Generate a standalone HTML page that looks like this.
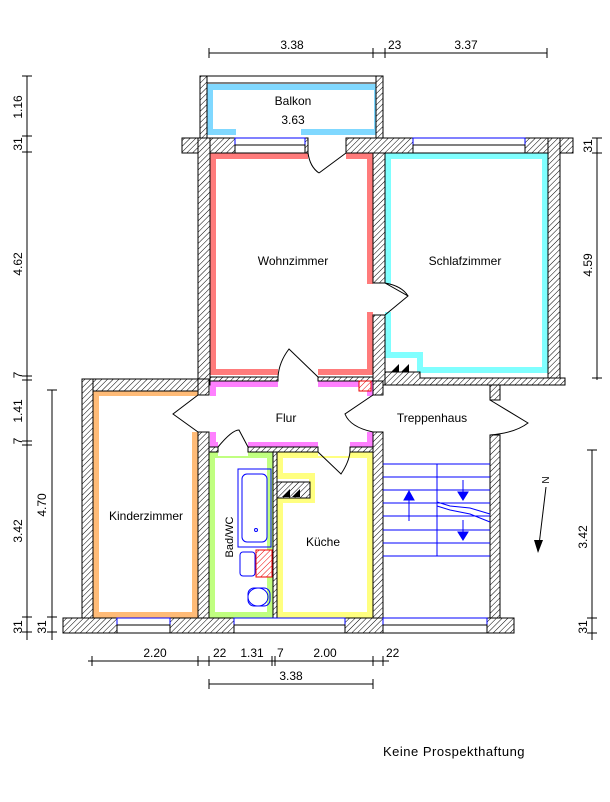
<!DOCTYPE html>
<html><head><meta charset="utf-8"><style>
html,body{margin:0;padding:0;background:#fff;}
svg{display:block}
text{font-family:"Liberation Sans",sans-serif;font-size:12px;fill:#000}
</style></head><body>
<svg width="610" height="802" viewBox="0 0 610 802" xmlns="http://www.w3.org/2000/svg">
<defs>
<pattern id="h" width="4" height="4" patternUnits="userSpaceOnUse" patternTransform="rotate(45)">
<rect width="4" height="4" fill="#fff"/><line x1="0" y1="0" x2="0" y2="4" stroke="#000" stroke-width="1"/></pattern>
<pattern id="hr" width="4" height="4" patternUnits="userSpaceOnUse" patternTransform="rotate(45)">
<rect width="4" height="4" fill="#fff"/><line x1="0" y1="0" x2="0" y2="4" stroke="#e00" stroke-width="1"/></pattern>
</defs>

<g fill="none" stroke-width="6">
<rect x="210" y="87" width="167" height="45" stroke="#80d8ff"/>
<rect x="213" y="156" width="157" height="216" stroke="#ff7b7b"/>
<path d="M388 156 H545 V370 H420 V355 H388 Z" stroke="#80ffff"/>
<rect x="96" y="393" width="99" height="222" stroke="#ffbb77"/>
<rect x="213" y="384" width="157" height="61" stroke="#ff80ff"/>
<rect x="212" y="455" width="58" height="160" stroke="#c0ff80"/>
<path d="M280 455 H370 V615 H280 V500 H312 V476 H280 Z" stroke="#ffff80"/>
</g>
<g fill="#fff">
<rect x="308" y="150" width="38" height="12"/>
<rect x="366" y="284" width="26" height="28"/>
<rect x="278" y="366" width="40" height="22"/>
<rect x="192" y="396" width="24" height="36"/>
<rect x="365" y="396" width="24" height="36"/>
<rect x="218" y="440" width="30" height="16"/>
<rect x="318" y="440" width="32" height="16"/>
<rect x="200" y="82" width="4" height="40"/>
<rect x="236" y="128" width="65" height="10"/>
</g>

<g fill="url(#h)" stroke="#000" stroke-width="1">
<rect x="200" y="76" width="183" height="7" fill="#fff"/>
<rect x="200" y="76" width="7" height="62"/>
<rect x="376" y="76" width="7" height="62"/>
<path d="M182 138 H308 V153 H182 Z"/>
<path d="M346 138 H573 V153 H346 Z"/>
<rect x="198" y="138" width="12" height="247"/>
<rect x="373" y="153" width="12" height="130"/>
<rect x="373" y="315" width="12" height="70"/>
<rect x="548" y="138" width="12" height="241"/>
<path d="M385 372 H420 V378 H565 V385 H385 Z"/>
<rect x="210" y="377" width="68" height="4"/>
<rect x="318" y="377" width="55" height="4"/>
<rect x="82" y="379" width="116" height="12"/>
<rect x="82" y="379" width="11" height="239"/>
<rect x="198" y="379" width="11" height="16"/>
<rect x="198" y="432" width="11" height="186"/>
<rect x="373" y="381" width="10" height="14"/>
<rect x="373" y="432" width="10" height="186"/>
<rect x="490" y="385" width="10" height="15"/>
<rect x="490" y="435" width="10" height="183"/>
<rect x="209" y="447" width="9" height="5"/>
<rect x="248" y="447" width="70" height="5"/>
<rect x="350" y="447" width="23" height="5"/>
<rect x="273" y="452" width="4" height="166"/>
<rect x="277" y="482" width="33" height="16"/>
<path d="M63 618 H117 V633 H63 Z"/>
<path d="M170 618 H234 V633 H170 Z"/>
<path d="M345 618 H383 V633 H345 Z"/>
<path d="M487 618 H514 V633 H487 Z"/>
</g>
<g fill="#000"><path d="M391 372 L399 364 V372 Z M401 372 L409 364 V372 Z M282 497 L290 489 V497Z M292 497 L300 489 V497Z"/></g>
<rect x="359" y="381" width="12" height="10" fill="url(#hr)" stroke="#e00"/>
<rect x="256" y="550" width="16" height="27" fill="url(#hr)" stroke="#e00"/>

<g fill="#fff" stroke="#00f" stroke-width="1">
<rect x="235" y="138" width="70" height="7"/><rect x="235" y="145" width="70" height="8" stroke="#000"/>
<rect x="413" y="138" width="112" height="7"/><rect x="413" y="145" width="112" height="8" stroke="#000"/>
<rect x="117" y="618" width="53" height="7"/><rect x="117" y="625" width="53" height="8" stroke="#000"/>
<rect x="234" y="618" width="111" height="7"/><rect x="234" y="625" width="111" height="8" stroke="#000"/>
<rect x="383" y="618" width="104" height="7"/><rect x="383" y="625" width="104" height="8" stroke="#000"/>
</g>

<g fill="none" stroke="#000" stroke-width="1">
<path d="M346 153 L319 173 M308 153 Q310 167 319 173"/>
<path d="M385 283 L408 296 L385 315 M385 283 Q402 286 408 296"/>
<path d="M318 377 L289 349 Q279 362 278 377"/>
<path d="M198 395 L173 414 L198 432"/>
<path d="M248 447 L239 430 Q232 430 218 447"/>
<path d="M318 452 L341 474 Q349 462 350 452"/>
<path d="M373 395 L345 414 Q350 427 373 432"/>
<path d="M490 400 L528 423 Q515 433 490 435"/>
</g>

<g stroke="#00f" fill="none" stroke-width="1">
<path d="M383 464 H490 M383 477 H490 M383 490 H490 M383 503 H490 M383 516 H490 M383 530 H490 M383 543 H490 M383 556 H490 M437 464 V556"/>
<path d="M437 502 L450 506 L470 508 L490 514 M437 506 L450 510 L470 514 L490 522"/>
<path d="M409 521 V496"/><path d="M404 500 L409 491 L414 500Z" fill="#00f"/>
<path d="M463 480 V492"/><path d="M458 492 L463 500 L468 492Z" fill="#00f"/>
<path d="M463 520 V532"/><path d="M458 532 L463 540 L468 532Z" fill="#00f"/>
</g>
<g stroke="#00f" fill="none">
<rect x="238" y="469" width="33" height="78"/>
<rect x="242" y="474" width="25" height="68" rx="5"/>
<circle cx="256" cy="530" r="1.5"/>
<rect x="240" y="552" width="15" height="24" rx="3"/>
<ellipse cx="258" cy="597" rx="10" ry="9"/>
<rect x="248" y="588" width="22" height="18" rx="6"/>
</g>
<text x="233" y="537" transform="rotate(-90 233 537)" text-anchor="middle" style="font-size:11px">Bad/WC</text>

<path d="M546 487 L539 545" stroke="#000"/><path d="M534 540 L543 540 L538 553Z" fill="#000"/>
<text x="549" y="480" transform="rotate(-90 549 480)" text-anchor="middle" style="font-size:10px">N</text>

<text x="293" y="105" text-anchor="middle">Balkon</text>
<text x="293" y="124" text-anchor="middle">3.63</text>
<text x="293" y="265" text-anchor="middle">Wohnzimmer</text>
<text x="465" y="265" text-anchor="middle">Schlafzimmer</text>
<text x="146" y="520" text-anchor="middle">Kinderzimmer</text>
<text x="286" y="422" text-anchor="middle">Flur</text>
<text x="432" y="422" text-anchor="middle">Treppenhaus</text>
<text x="323" y="546" text-anchor="middle">Küche</text>
<text x="383" y="756" style="font-size:13px;letter-spacing:0.5px">Keine  Prospekthaftung</text>

<g stroke="#000" fill="none">
<path d="M209 53 H547 M209 48 V58 M373 48 V58 M385 48 V58 M547 48 V58"/>
<path d="M27 76 V640 M22 76 H32 M22 136 H32 M22 152 H32 M22 376 H32 M22 380 H32 M22 441 H32 M22 445 H32 M22 617 H32 M22 632 H32"/>
<path d="M52 390 V640 M47 390 H57 M47 617 H57 M47 632 H57"/>
<path d="M597 138 V380 M592 138 H602 M592 153 H602 M592 378 H602"/>
<path d="M592 450 V640 M587 450 H597 M587 618 H597 M587 633 H597"/>
<path d="M88 661 H389 M92 656 V666 M198 656 V666 M209 656 V666 M272 656 V666 M275 656 V666 M373 656 V666 M383 656 V666"/>
<path d="M209 684 H373 M209 679 V689 M373 679 V689"/>
</g>
<g style="font-size:11px">
<text x="292" y="49" text-anchor="middle">3.38</text>
<text x="388" y="49">23</text>
<text x="466" y="49" text-anchor="middle">3.37</text>
<text x="155" y="657" text-anchor="middle">2.20</text>
<text x="213" y="657">22</text>
<text x="252" y="657" text-anchor="middle">1.31</text>
<text x="277" y="657">7</text>
<text x="325" y="657" text-anchor="middle">2.00</text>
<text x="386" y="657">22</text>
<text x="291" y="680" text-anchor="middle">3.38</text>
<g text-anchor="middle">
<text transform="translate(22,107) rotate(-90)">1.16</text>
<text transform="translate(22,144) rotate(-90)">31</text>
<text transform="translate(22,264) rotate(-90)">4.62</text>
<text transform="translate(22,375) rotate(-90)">7</text>
<text transform="translate(22,411) rotate(-90)">1.41</text>
<text transform="translate(22,441) rotate(-90)">7</text>
<text transform="translate(22,531) rotate(-90)">3.42</text>
<text transform="translate(22,627) rotate(-90)">31</text>
<text transform="translate(46,505) rotate(-90)">4.70</text>
<text transform="translate(46,627) rotate(-90)">31</text>
<text transform="translate(592,146) rotate(-90)">31</text>
<text transform="translate(592,265) rotate(-90)">4.59</text>
<text transform="translate(587,537) rotate(-90)">3.42</text>
<text transform="translate(587,627) rotate(-90)">31</text>
</g></g>
</svg>
</body></html>
